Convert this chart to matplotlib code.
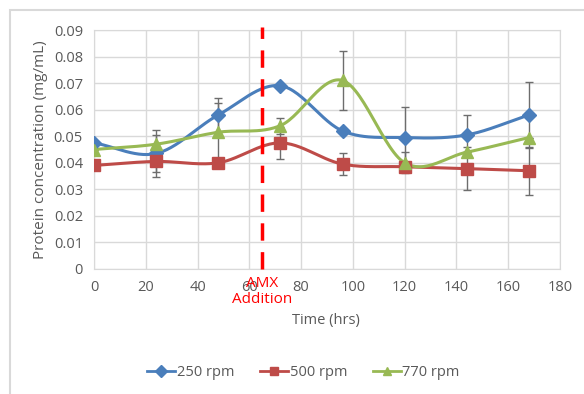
import matplotlib.pyplot as plt
import numpy as np
from matplotlib.patches import Rectangle

# Data
time = [0, 24, 48, 72, 96, 120, 144, 168]
rpm250 = [0.0475, 0.0435, 0.058, 0.069, 0.052, 0.0495, 0.0505, 0.058]
rpm500 = [0.039, 0.0405, 0.040, 0.0475, 0.0395, 0.0385, 0.0378, 0.037]
rpm770 = [0.045, 0.047, 0.0515, 0.054, 0.071, 0.040, 0.044, 0.0495]
err250 = [0, 0.009, 0.0065, 0, 0, 0.0115, 0.0075, 0.0125]
err500 = [0, 0.004, 0, 0.006, 0.004, 0, 0.008, 0.009]
err770 = [0, 0.0035, 0.011, 0.003, 0.011, 0.004, 0, 0]
labels = ["250 rpm", "500 rpm", "770 rpm"]
colors = ["#4a7ebb", "#be4b48", "#98b954"]
markers = ["D", "s", "^"]
amx_time = 65


def smooth(x, y, n=30):
    # Catmull-Rom style curve through the points (like Excel smoothed lines)
    x = np.asarray(x, float)
    y = np.asarray(y, float)
    px = np.concatenate([[2 * x[0] - x[1]], x, [2 * x[-1] - x[-2]]])
    py = np.concatenate([[2 * y[0] - y[1]], y, [2 * y[-1] - y[-2]]])
    xs, ys = [], []
    t = np.linspace(0, 1, n)
    for i in range(1, len(px) - 2):
        for p, out in ((px, xs), (py, ys)):
            p0, p1, p2, p3 = p[i - 1], p[i], p[i + 1], p[i + 2]
            out.extend(0.5 * (2 * p1 + (-p0 + p2) * t
                              + (2 * p0 - 5 * p1 + 4 * p2 - p3) * t ** 2
                              + (-p0 + 3 * p1 - 3 * p2 + p3) * t ** 3))
    return xs, ys


fig = plt.figure(figsize=(5.84, 3.94), dpi=100)
fig.patches.append(Rectangle((10 / 584, -10 / 394), 600 / 584, 394 / 394,
                             transform=fig.transFigure, fill=False,
                             edgecolor="#d9d9d9", linewidth=1.5))
ax = fig.add_axes([94 / 584, 1 - 269 / 394, 466 / 584, 239 / 394])

series = [(rpm250, err250), (rpm500, err500), (rpm770, err770)]
for (vals, errs), lab, c, m in zip(series, labels, colors, markers):
    ax.errorbar(time, vals, yerr=errs, fmt="none", ecolor="#6d6d6d",
                elinewidth=1, capsize=3, zorder=2)
    sx, sy = smooth(time, vals)
    ax.plot(sx, sy, color=c, linewidth=2.2, zorder=3)
    ax.plot(time, vals, linestyle="none", marker=m, color=c,
            markersize=8 if m != "D" else 7, zorder=4)
    ax.plot([], [], color=c, marker=m, linewidth=2, markersize=6, label=lab)

ax.axvline(amx_time, ymin=0, ymax=1.012, color="#ff0000", linestyle=(0, (5, 3.3)),
           linewidth=2.5, clip_on=False, zorder=5)
ax.text(amx_time, -0.0028, "AMX\nAddition", color="#ff0000", ha="center", va="top",
        fontsize=11, linespacing=1.05, fontfamily="Open Sans")

ax.set_xlim(0, 180)
ax.set_ylim(0, 0.09)
ax.set_xticks(range(0, 181, 20))
ax.set_yticks(np.arange(0, 0.0901, 0.01))
ax.set_yticklabels(["0"] + [f"{v:.2f}" for v in np.arange(0.01, 0.0901, 0.01)])
ax.grid(True, color="#d9d9d9", linewidth=1)
ax.set_axisbelow(True)
for s in ax.spines.values():
    s.set_color("#d9d9d9")
ax.tick_params(length=0, colors="#595959", labelsize=10.5, pad=8)
for lab in ax.get_xticklabels() + ax.get_yticklabels():
    lab.set_fontfamily("Open Sans")
ax.set_ylabel("Protein concentration (mg/mL)", color="#595959", fontsize=11,
              fontfamily="Open Sans", labelpad=4)
ax.set_xlabel("Time (hrs)", color="#595959", fontsize=10.5, fontfamily="Open Sans")
ax.xaxis.set_label_coords(0.497, -0.185)

fig.legend(loc="center", bbox_to_anchor=(0.52, 1 - 373 / 394), ncol=3, frameon=False,
           handlelength=1.9, handletextpad=0.1, columnspacing=1.8,
           labelcolor="#595959", prop={"family": "Open Sans", "size": 10.5})

fig.savefig("out.png", dpi=100)
